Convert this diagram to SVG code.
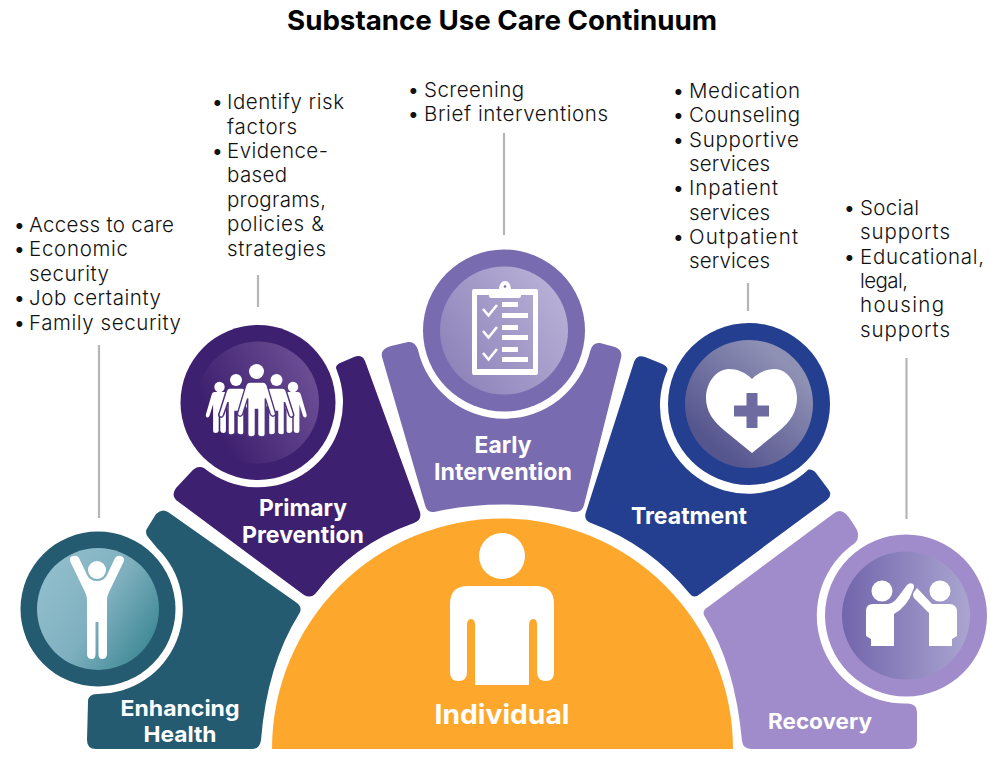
<svg xmlns="http://www.w3.org/2000/svg" xmlns:xlink="http://www.w3.org/1999/xlink" width="1006" height="765" viewBox="0 0 1006 765">
<style>
text{font-family:"Inter","Liberation Sans",sans-serif}
.t{font-size:20.5px;font-weight:350;fill:#111}
.b{font-size:19px;font-weight:400;fill:#111}
.l{font-size:23.5px;font-weight:700;fill:#fff;text-anchor:middle}
.title{font-size:27px;font-weight:700;fill:#000;text-anchor:middle}
.w{fill:#fff}
.conn{stroke:#b5b5b5;stroke-width:2.2;fill:none}
</style>
<defs>
<linearGradient id="g1" x1="0" y1="0.2" x2="1" y2="0.85"><stop offset="0" stop-color="#93bfce"/><stop offset="0.5" stop-color="#7fb0bf"/><stop offset="1" stop-color="#36838f"/></linearGradient>
<linearGradient id="g2" x1="0" y1="0.75" x2="1" y2="0.25"><stop offset="0.15" stop-color="#3e2070"/><stop offset="1" stop-color="#6d5095"/></linearGradient>
<linearGradient id="g3" x1="0" y1="0.85" x2="1" y2="0.15"><stop offset="0" stop-color="#8c80b8"/><stop offset="1" stop-color="#bab3d8"/></linearGradient>
<linearGradient id="g4" x1="0.15" y1="0.9" x2="0.85" y2="0.1"><stop offset="0.1" stop-color="#56568f"/><stop offset="0.9" stop-color="#8e90b4"/></linearGradient>
<linearGradient id="g5" x1="0" y1="0.5" x2="1" y2="0.5"><stop offset="0" stop-color="#7265ac"/><stop offset="1" stop-color="#aaa5d0"/></linearGradient>
<path id="fig" d="M-12 0L12 0Q18 0 20 8L34 55Q36 60 31 62Q27 63 25 58L16 30L16 95Q16 100 10 100Q3 100 2 95L2 50L-2 50L-2 95Q-3 100-10 100Q-16 100-16 95L-16 30L-25 58Q-27 63-31 62Q-36 60-34 55L-20 8Q-18 0-12 0Z"/>
</defs>

<text class="title" x="502" y="30" textLength="430" lengthAdjust="spacingAndGlyphs">Substance Use Care Continuum</text>

<g id="connectors">
<line class="conn" x1="99" y1="345" x2="99" y2="518"/>
<line class="conn" x1="258" y1="275" x2="258" y2="307"/>
<line class="conn" x1="504" y1="133" x2="504" y2="235"/>
<line class="conn" x1="748" y1="283" x2="748" y2="311"/>
<line class="conn" x1="906.500" y1="358" x2="906.500" y2="519"/>
</g>

<g id="individual">
<path d="M272 749A230.500 230.500 0 0 1 733 749Z" fill="#fda82d"/>
<circle class="w" cx="502" cy="556" r="23"/>
<path class="w" d="M468 586L536 586Q554 586 554 604L554 672Q554 681 546 681Q537 681 537 672L537 625Q537 619 533.500 619Q529 619 529 625L529 685L475 685L475 625Q475 619 471 619Q467 619 467 625L467 672Q467 681 458.500 681Q450 681 450 672L450 604Q450 586 468 586Z"/>
<text class="l" x="502" y="724" style="font-size:27px" textLength="135" lengthAdjust="spacingAndGlyphs">Individual</text>
</g>

<g id="enhancing-health">
<path d="M97 694A85 85 0 0 0 157 548L148 537Q144 532 148 527L156 514Q162 508 168 512L297 603Q303 608 299 614Q267 665 261 740Q260 749 252 749L96 749Q87 749 87 740L88 702Q88 694 97 694Z" fill="#245b70"/>
<circle cx="98" cy="609" r="77.500" fill="#245b70"/>
<circle cx="98" cy="609" r="61" fill="url(#g1)"/>
<circle class="w" cx="97" cy="570" r="9"/>
<path class="w" d="M70 561Q69 557 73 556Q77 555 79 558L87 575Q90 581 97 581Q104 581 107 575L115 558Q117 555 121 556Q125 558 124 561L110 590Q107 596 107 600L107 654Q107 659 102 659Q99 659 98.500 655L98.500 622L95.500 622L95.500 655Q95 659 92 659Q87 659 87 654L87 600Q87 596 84 590Z"/>
<text class="l" x="180" y="716" style="font-size:22px" textLength="119" lengthAdjust="spacingAndGlyphs">Enhancing</text>
<text class="l" x="180" y="742" style="font-size:22px" textLength="73" lengthAdjust="spacingAndGlyphs">Health</text>
<text class="b" x="14" y="232">•</text><text class="t" x="29" y="232" textLength="145">Access to care</text>
<text class="b" x="14" y="256">•</text><text class="t" x="29" y="256" textLength="99">Economic</text>
<text class="t" x="29" y="281" textLength="80">security</text>
<text class="b" x="14" y="305">•</text><text class="t" x="29" y="305" textLength="132">Job certainty</text>
<text class="b" x="14" y="330">•</text><text class="t" x="29" y="330" textLength="152">Family security</text>
</g>

<g id="primary-prevention">
<path d="M176 488L191 472Q197 465 204 468A85 85 0 0 0 337 371L336 368Q336 365 340 363L354 357Q362 354 365 361L420 512Q422 520 414 523Q352 545 316 593Q311 599 304 595L176 500Q171 495 176 488Z" fill="#3e2070"/>
<circle cx="258" cy="402.500" r="77.500" fill="#3e2070"/>
<circle cx="258" cy="402.500" r="61" fill="url(#g2)"/>
<g class="w">
<use xlink:href="#fig" href="#fig" transform="translate(219.500 392) scale(.4 .41)"/>
<use xlink:href="#fig" href="#fig" transform="translate(293 392) scale(.4 .41)"/>
<circle cx="219.500" cy="387" r="5.200"/><circle cx="293" cy="387" r="5.200"/>
<use xlink:href="#fig" href="#fig" stroke="#4b2f7c" stroke-width="3" transform="translate(236 388) scale(.5 .47)"/>
<use xlink:href="#fig" href="#fig" stroke="#523680" stroke-width="3" transform="translate(276.500 388) scale(.5 .47)"/>
<circle cx="236" cy="380" r="6"/><circle cx="276.500" cy="380" r="6"/>
<use xlink:href="#fig" href="#fig" stroke="#4f3380" stroke-width="2.500" transform="translate(256.500 382) scale(.55 .55)"/>
<circle cx="256.500" cy="371.500" r="7.500"/>
</g>
<text class="l" x="303" y="516" textLength="88" lengthAdjust="spacingAndGlyphs">Primary</text>
<text class="l" x="303" y="543" textLength="122" lengthAdjust="spacingAndGlyphs">Prevention</text>
<text class="b" x="212" y="109">•</text><text class="t" x="227" y="109" textLength="117">Identify risk</text>
<text class="t" x="227" y="134" textLength="70">factors</text>
<text class="b" x="212" y="158">•</text><text class="t" x="227" y="158" textLength="101">Evidence-</text>
<text class="t" x="227" y="182" textLength="60">based</text>
<text class="t" x="227" y="207" textLength="99">programs,</text>
<text class="t" x="227" y="231" textLength="97">policies &amp;</text>
<text class="t" x="227" y="256" textLength="99">strategies</text>
</g>

<g id="early-intervention">
<path d="M391 346L408 342Q415 341 418 350A88.500 88.500 0 0 0 590.500 350Q593 342 600 343L615 347Q623 350 621 358L584 505Q582 513 573 512Q502 497 434 512Q427 513 425 505L382 357Q380 349 391 346Z" fill="#786bb0"/>
<circle cx="504" cy="330.500" r="81" fill="#786bb0"/>
<circle cx="504" cy="330.500" r="64" fill="url(#g3)"/>
<g class="w">
<path fill-rule="evenodd" d="M474 289L536 289Q538 289 538 291L538 373Q538 375 536 375L474 375Q472 375 472 373L472 291Q472 289 474 289ZM477 295L477 369L533 369L533 295Z"/>
<path d="M491 289L499 289Q500 281 505 281Q510 281 511 289L519 289Q521 289 521 291L521 296Q521 298 519 298L491 298Q489 298 489 296L489 291Q489 289 491 289Z"/>
<rect x="502" y="302" width="16" height="5"/><rect x="502" y="313" width="26" height="5"/>
<rect x="502" y="325" width="16" height="5"/><rect x="502" y="335" width="26" height="5"/>
<rect x="502" y="347" width="16" height="5"/><rect x="502" y="357" width="26" height="5"/>
<path d="M483 309L488.500 315.500L497 305M483 331L488.500 337.500L497 327M483 353L488.500 359.500L497 349" fill="none" stroke="#fff" stroke-width="2.600"/>
</g>
<circle cx="505" cy="286.500" r="1.300" fill="#786bb0"/>
<text class="l" x="503" y="453" textLength="57" lengthAdjust="spacingAndGlyphs">Early</text>
<text class="l" x="503" y="480" textLength="138" lengthAdjust="spacingAndGlyphs">Intervention</text>
<text class="b" x="408" y="97">•</text><text class="t" x="424" y="97" textLength="100">Screening</text>
<text class="b" x="408" y="121">•</text><text class="t" x="424" y="121" textLength="184">Brief interventions</text>
</g>

<g id="treatment">
<path d="M634 362Q637 354 645 357L660 363Q668 366 667.500 370A88 88 0 0 0 808.500 469.500Q813 469 816 473L828 489Q833 495 827 500L700 594Q694 599 690 594Q650 545 591 523Q583 520 586 512Z" fill="#243f8f"/>
<circle cx="749" cy="404" r="81" fill="#243f8f"/>
<circle cx="749" cy="404" r="64" fill="url(#g4)"/>
<path class="w" d="M752 379C745 372 737 369 729 369C716 369 706 383 706 398C706 412 714 422 725 431L752 453L779 431C790 422 797 412 797 398C797 383 787 369 775 369C767 369 759 372 752 379Z"/>
<path d="M746.500 393L757.500 393L757.500 405.500L769 405.500L769 416.500L757.500 416.500L757.500 428L746.500 428L746.500 416.500L734 416.500L734 405.500L746.500 405.500Z" fill="#6e6ba0"/>
<text class="l" x="689" y="524" textLength="116" lengthAdjust="spacingAndGlyphs">Treatment</text>
<text class="b" x="673" y="98">•</text><text class="t" x="689" y="98" textLength="111">Medication</text>
<text class="b" x="673" y="122">•</text><text class="t" x="689" y="122" textLength="111">Counseling</text>
<text class="b" x="673" y="147">•</text><text class="t" x="689" y="147" textLength="110">Supportive</text>
<text class="t" x="689" y="171" textLength="81">services</text>
<text class="b" x="673" y="195">•</text><text class="t" x="689" y="195" textLength="89">Inpatient</text>
<text class="t" x="689" y="220" textLength="81">services</text>
<text class="b" x="673" y="244">•</text><text class="t" x="689" y="244" textLength="109">Outpatient</text>
<text class="t" x="689" y="268" textLength="81">services</text>
</g>

<g id="recovery">
<path d="M833 514Q840 508 846 514Q850 518 857 530Q860 538 855 543A88 88 0 0 0 908 703.500Q917 704 917 712L917 740Q917 749 908 749L752 749Q743 749 742 741Q735 665 705 617Q701 611 708 607Z" fill="#a18ccb"/>
<circle cx="906" cy="615.500" r="81" fill="#a18ccb"/>
<circle cx="906" cy="615.500" r="64" fill="url(#g5)"/>
<g class="w">
<circle cx="882" cy="591" r="10.500"/><circle cx="940" cy="591" r="10.500"/>
<path d="M873 604L888 604Q894 603 898 597L907 585Q910 582 913 584Q915 586 913 590Q908 606 894 614L894 646L871 646L871 639L866 636L866 611Q866 604 873 604Z"/>
<path d="M917 588L932 604L949 604Q957 604 957 612L957 636L952 639L952 646L929 646L929 613L914 598Q912 595 914 592Z"/>
</g>
<text class="l" x="820" y="729" style="font-size:21px" textLength="104" lengthAdjust="spacingAndGlyphs">Recovery</text>
<text class="b" x="844" y="215">•</text><text class="t" x="860" y="215" textLength="59">Social</text>
<text class="t" x="860" y="239" textLength="90">supports</text>
<text class="b" x="844" y="264">•</text><text class="t" x="860" y="264" textLength="124">Educational,</text>
<text class="t" x="860" y="288" textLength="48">legal,</text>
<text class="t" x="860" y="312" textLength="84">housing</text>
<text class="t" x="860" y="337" textLength="90">supports</text>
</g>
</svg>
